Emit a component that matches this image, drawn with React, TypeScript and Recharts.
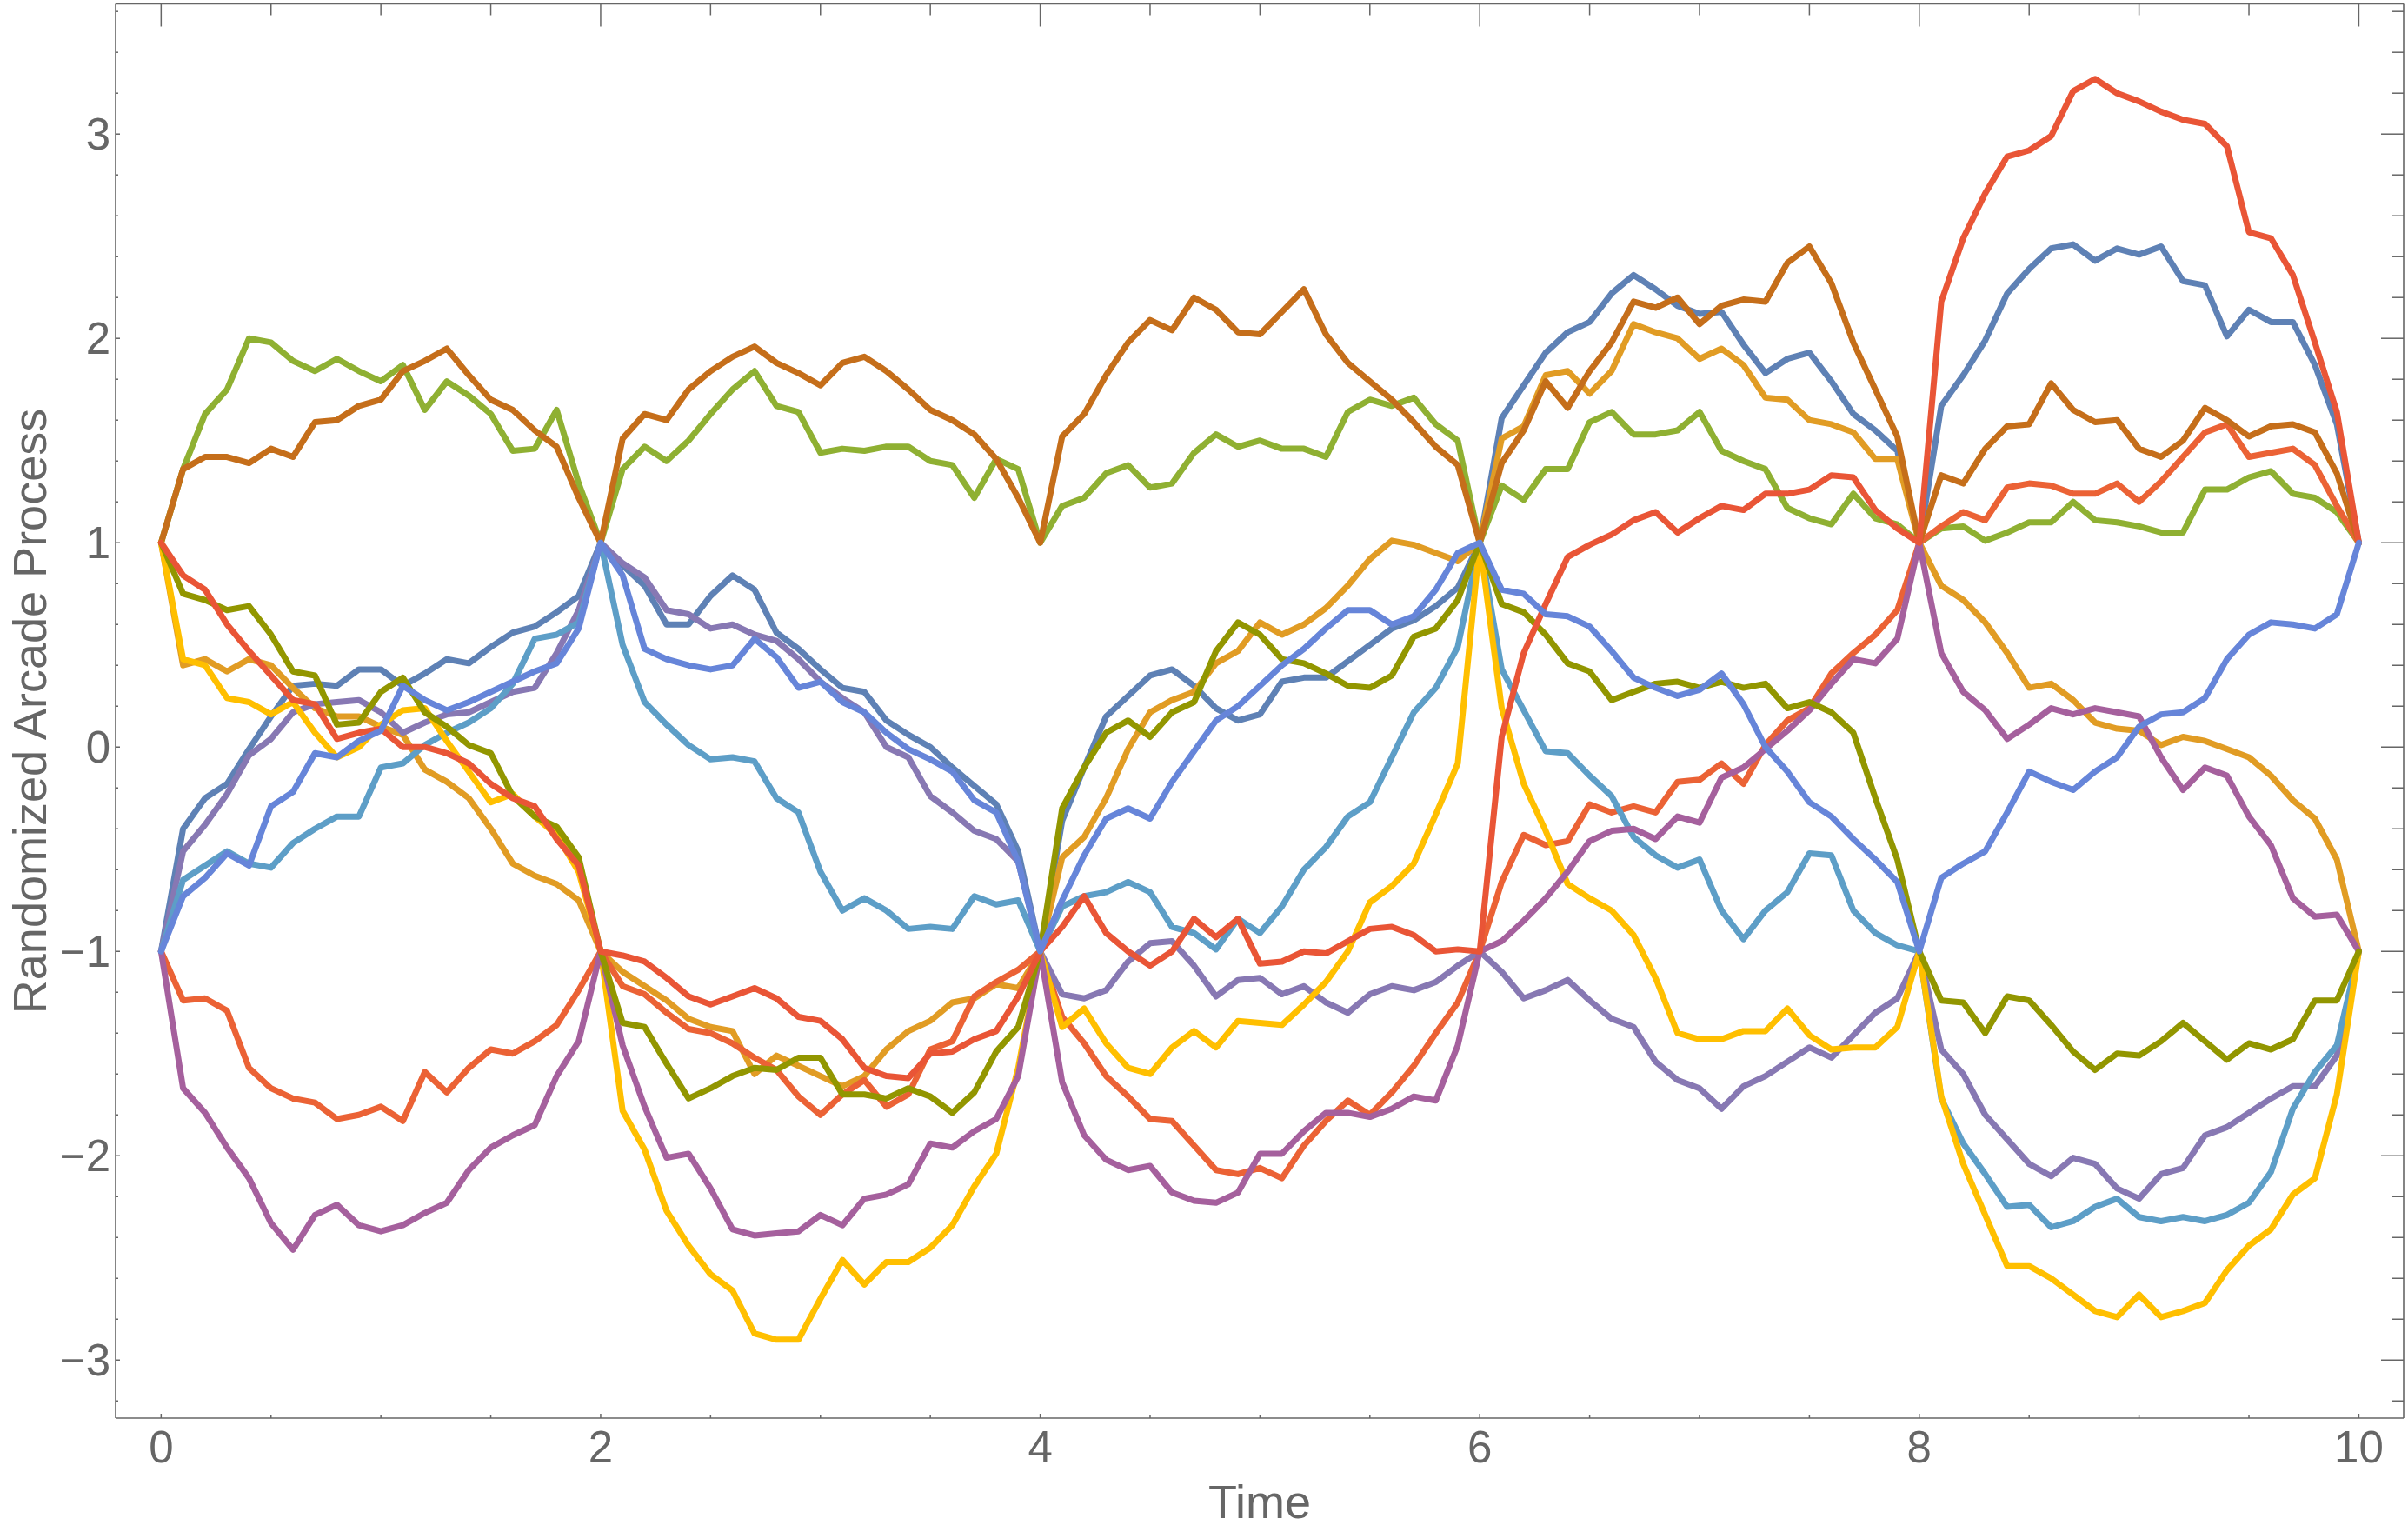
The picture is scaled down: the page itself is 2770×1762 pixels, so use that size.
import React from 'react';
import { LineChart, Line, XAxis, YAxis } from 'recharts';

const TIME = [0,0.1,0.2,0.3,0.4,0.5,0.6,0.7,0.8,0.9,1,1.1,1.2,1.3,1.4,1.5,1.6,1.7,1.8,1.9,2,2.1,2.2,2.3,2.4,2.5,2.6,2.7,2.8,2.9,3,3.1,3.2,3.3,3.4,3.5,3.6,3.7,3.8,3.9,4,4.1,4.2,4.3,4.4,4.5,4.6,4.7,4.8,4.9,5,5.1,5.2,5.3,5.4,5.5,5.6,5.7,5.8,5.9,6,6.1,6.2,6.3,6.4,6.5,6.6,6.7,6.8,6.9,7,7.1,7.2,7.3,7.4,7.5,7.6,7.7,7.8,7.9,8,8.1,8.2,8.3,8.4,8.5,8.6,8.7,8.8,8.9,9,9.1,9.2,9.3,9.4,9.5,9.6,9.7,9.8,9.9,10];

const S_BLUE = [
  -1, -0.40, -0.25, -0.18, -0.01, 0.15, 0.30, 0.31, 0.30, 0.38, 0.38, 0.30, 0.36, 0.43, 0.41, 0.49, 0.56, 0.59, 0.66, 0.74, 1.0,
  0.89, 0.79, 0.60, 0.60, 0.74, 0.84, 0.77, 0.56, 0.48, 0.38, 0.29, 0.27, 0.13, 0.06, 0.00, -0.10, -0.19, -0.28, -0.51, -1,
  -0.36, -0.10, 0.15, 0.25, 0.35, 0.38, 0.30, 0.19, 0.13, 0.16, 0.32, 0.34, 0.34, 0.42, 0.50, 0.58, 0.62, 0.69, 0.78, 1.0,
  1.61, 1.77, 1.93, 2.03, 2.08, 2.22, 2.31, 2.24, 2.16, 2.12, 2.13, 1.97, 1.83, 1.90, 1.93, 1.79, 1.63, 1.55, 1.45, 1.0,
  1.67, 1.82, 1.99, 2.22, 2.34, 2.44, 2.46, 2.38, 2.44, 2.41, 2.45, 2.28, 2.26, 2.01, 2.14, 2.08, 2.08, 1.87, 1.58, 1.0,
];
const S_ORANGE = [
  1.0, 0.40, 0.43, 0.37, 0.43, 0.40, 0.29, 0.19, 0.15, 0.15, 0.10, 0.06, -0.11, -0.17, -0.25, -0.40, -0.57, -0.63, -0.67, -0.75, -1,
  -1.10, -1.17, -1.24, -1.33, -1.37, -1.39, -1.60, -1.51, -1.56, -1.61, -1.66, -1.61, -1.48, -1.39, -1.34, -1.25, -1.23, -1.16, -1.18, -1,
  -0.54, -0.44, -0.25, -0.01, 0.17, 0.23, 0.27, 0.41, 0.47, 0.61, 0.55, 0.60, 0.68, 0.79, 0.92, 1.01, 0.99, 0.95, 0.91, 1.0,
  1.51, 1.57, 1.82, 1.84, 1.73, 1.84, 2.07, 2.03, 2.00, 1.90, 1.95, 1.87, 1.71, 1.70, 1.60, 1.58, 1.54, 1.41, 1.41, 1.0,
  0.79, 0.72, 0.61, 0.46, 0.29, 0.31, 0.23, 0.12, 0.09, 0.08, 0.01, 0.05, 0.03, -0.01, -0.05, -0.14, -0.26, -0.35, -0.55, -1,
];
const S_GREEN = [
  1.0, 1.36, 1.63, 1.75, 2.0, 1.98, 1.89, 1.84, 1.90, 1.84, 1.79, 1.87, 1.65, 1.79, 1.72, 1.63, 1.45, 1.46, 1.65, 1.29, 1.0,
  1.36, 1.47, 1.40, 1.50, 1.63, 1.75, 1.84, 1.67, 1.64, 1.44, 1.46, 1.45, 1.47, 1.47, 1.40, 1.38, 1.22, 1.41, 1.36, 1.0,
  1.18, 1.22, 1.34, 1.38, 1.27, 1.29, 1.44, 1.53, 1.47, 1.50, 1.46, 1.46, 1.42, 1.64, 1.70, 1.67, 1.71, 1.58, 1.50, 1.0,
  1.28, 1.21, 1.36, 1.36, 1.59, 1.64, 1.53, 1.53, 1.55, 1.64, 1.45, 1.40, 1.36, 1.17, 1.12, 1.09, 1.24, 1.12, 1.09, 1.0,
  1.07, 1.08, 1.01, 1.05, 1.10, 1.10, 1.20, 1.11, 1.10, 1.08, 1.05, 1.05, 1.26, 1.26, 1.32, 1.35, 1.24, 1.22, 1.15, 1.0,
];
const S_REDORANGE = [
  -1, -1.24, -1.23, -1.29, -1.57, -1.67, -1.72, -1.74, -1.82, -1.80, -1.76, -1.83, -1.59, -1.69, -1.57, -1.48, -1.50, -1.44, -1.36, -1.19, -1,
  -1.17, -1.21, -1.30, -1.38, -1.40, -1.45, -1.52, -1.58, -1.71, -1.80, -1.70, -1.63, -1.76, -1.70, -1.48, -1.44, -1.22, -1.15, -1.09, -1,
  -1.32, -1.45, -1.61, -1.71, -1.82, -1.83, -1.95, -2.07, -2.09, -2.06, -2.11, -1.95, -1.83, -1.73, -1.80, -1.69, -1.56, -1.40, -1.25, -1,
  -0.66, -0.43, -0.48, -0.46, -0.28, -0.32, -0.29, -0.32, -0.17, -0.16, -0.08, -0.18, 0.01, 0.13, 0.19, 0.36, 0.46, 0.55, 0.67, 1.0,
  1.08, 1.15, 1.11, 1.27, 1.29, 1.28, 1.24, 1.24, 1.29, 1.20, 1.30, 1.42, 1.54, 1.58, 1.42, 1.44, 1.46, 1.38, 1.18, 1.0,
];
const S_PURPLE = [
  -1, -0.51, -0.38, -0.23, -0.04, 0.04, 0.17, 0.21, 0.22, 0.23, 0.17, 0.07, 0.12, 0.16, 0.17, 0.22, 0.27, 0.29, 0.46, 0.67, 1.0,
  0.90, 0.83, 0.67, 0.65, 0.58, 0.60, 0.55, 0.52, 0.43, 0.32, 0.24, 0.17, 0.00, -0.05, -0.24, -0.32, -0.41, -0.45, -0.56, -1,
  -1.21, -1.23, -1.19, -1.05, -0.96, -0.95, -1.07, -1.22, -1.14, -1.13, -1.21, -1.17, -1.25, -1.30, -1.21, -1.17, -1.19, -1.15, -1.07, -1,
  -1.10, -1.23, -1.19, -1.14, -1.24, -1.33, -1.37, -1.54, -1.63, -1.67, -1.77, -1.66, -1.61, -1.54, -1.47, -1.52, -1.41, -1.30, -1.23, -1,
  -1.48, -1.60, -1.80, -1.92, -2.04, -2.10, -2.01, -2.04, -2.16, -2.21, -2.09, -2.06, -1.90, -1.86, -1.79, -1.72, -1.66, -1.66, -1.51, -1,
];
const S_BROWN = [
  1.0, 1.36, 1.42, 1.42, 1.39, 1.46, 1.42, 1.59, 1.60, 1.67, 1.70, 1.84, 1.89, 1.95, 1.82, 1.70, 1.65, 1.55, 1.47, 1.22, 1.0,
  1.51, 1.63, 1.60, 1.75, 1.84, 1.91, 1.96, 1.88, 1.83, 1.77, 1.88, 1.91, 1.84, 1.75, 1.65, 1.60, 1.53, 1.41, 1.22, 1.0,
  1.52, 1.63, 1.82, 1.98, 2.09, 2.04, 2.20, 2.14, 2.03, 2.02, 2.13, 2.24, 2.02, 1.88, 1.79, 1.70, 1.59, 1.47, 1.38, 1.0,
  1.39, 1.55, 1.79, 1.66, 1.84, 1.98, 2.18, 2.15, 2.20, 2.07, 2.16, 2.19, 2.18, 2.37, 2.45, 2.27, 1.98, 1.75, 1.52, 1.0,
  1.33, 1.29, 1.46, 1.57, 1.58, 1.78, 1.65, 1.59, 1.60, 1.46, 1.42, 1.50, 1.66, 1.60, 1.52, 1.57, 1.58, 1.54, 1.34, 1.0,
];
const S_LIGHTBLUE = [
  -1, -0.65, -0.58, -0.51, -0.57, -0.59, -0.47, -0.40, -0.34, -0.34, -0.10, -0.08, 0.01, 0.07, 0.12, 0.19, 0.31, 0.53, 0.55, 0.61, 1.0,
  0.50, 0.22, 0.11, 0.01, -0.06, -0.05, -0.07, -0.25, -0.32, -0.61, -0.80, -0.74, -0.80, -0.89, -0.88, -0.89, -0.73, -0.77, -0.75, -1,
  -0.78, -0.73, -0.71, -0.66, -0.71, -0.88, -0.91, -0.99, -0.84, -0.91, -0.78, -0.60, -0.49, -0.34, -0.27, -0.05, 0.17, 0.29, 0.49, 1.0,
  0.38, 0.18, -0.02, -0.03, -0.14, -0.24, -0.44, -0.53, -0.59, -0.55, -0.80, -0.94, -0.80, -0.71, -0.52, -0.53, -0.80, -0.91, -0.97, -1,
  -1.72, -1.94, -2.09, -2.25, -2.24, -2.35, -2.32, -2.25, -2.21, -2.30, -2.32, -2.30, -2.32, -2.29, -2.23, -2.08, -1.77, -1.59, -1.46, -1,
];
const S_YELLOW = [
  1.0, 0.43, 0.40, 0.24, 0.22, 0.16, 0.22, 0.07, -0.05, 0.00, 0.11, 0.18, 0.19, 0.03, -0.12, -0.27, -0.23, -0.34, -0.43, -0.61, -1,
  -1.78, -1.97, -2.27, -2.44, -2.58, -2.66, -2.87, -2.90, -2.90, -2.70, -2.51, -2.63, -2.52, -2.52, -2.45, -2.34, -2.15, -1.99, -1.57, -1,
  -1.37, -1.28, -1.45, -1.57, -1.60, -1.47, -1.39, -1.47, -1.34, -1.35, -1.36, -1.26, -1.15, -1.00, -0.76, -0.68, -0.57, -0.33, -0.08, 1.0,
  0.19, -0.18, -0.41, -0.67, -0.74, -0.80, -0.92, -1.13, -1.40, -1.43, -1.43, -1.39, -1.39, -1.28, -1.41, -1.48, -1.47, -1.47, -1.37, -1,
  -1.71, -2.04, -2.29, -2.54, -2.54, -2.60, -2.68, -2.76, -2.79, -2.68, -2.79, -2.76, -2.72, -2.56, -2.44, -2.36, -2.19, -2.11, -1.70, -1,
];
const S_MAGENTA = [
  -1, -1.67, -1.79, -1.96, -2.11, -2.33, -2.46, -2.29, -2.24, -2.34, -2.37, -2.34, -2.28, -2.23, -2.07, -1.96, -1.90, -1.85, -1.61, -1.44, -1,
  -1.46, -1.76, -2.01, -1.99, -2.16, -2.36, -2.39, -2.38, -2.37, -2.29, -2.34, -2.21, -2.19, -2.14, -1.94, -1.96, -1.88, -1.82, -1.61, -1,
  -1.64, -1.90, -2.02, -2.07, -2.05, -2.18, -2.22, -2.23, -2.18, -1.99, -1.99, -1.88, -1.79, -1.79, -1.81, -1.77, -1.71, -1.73, -1.46, -1,
  -0.95, -0.85, -0.74, -0.61, -0.46, -0.41, -0.40, -0.45, -0.34, -0.37, -0.15, -0.10, -0.01, 0.08, 0.18, 0.31, 0.43, 0.41, 0.53, 1.0,
  0.46, 0.27, 0.18, 0.04, 0.11, 0.19, 0.16, 0.19, 0.17, 0.15, -0.05, -0.21, -0.10, -0.14, -0.34, -0.48, -0.74, -0.83, -0.82, -1,
];
const S_OLIVE = [
  1.0, 0.75, 0.72, 0.67, 0.69, 0.55, 0.37, 0.35, 0.11, 0.12, 0.27, 0.34, 0.17, 0.10, 0.01, -0.03, -0.24, -0.34, -0.39, -0.54, -1,
  -1.35, -1.37, -1.55, -1.72, -1.67, -1.61, -1.57, -1.58, -1.52, -1.52, -1.70, -1.70, -1.72, -1.67, -1.71, -1.79, -1.69, -1.49, -1.37, -1,
  -0.30, -0.10, 0.07, 0.13, 0.05, 0.17, 0.22, 0.47, 0.61, 0.55, 0.43, 0.41, 0.36, 0.30, 0.29, 0.35, 0.54, 0.58, 0.72, 1.0,
  0.70, 0.66, 0.55, 0.41, 0.37, 0.23, 0.27, 0.31, 0.32, 0.29, 0.32, 0.29, 0.31, 0.19, 0.22, 0.17, 0.07, -0.25, -0.55, -1,
  -1.24, -1.25, -1.40, -1.22, -1.24, -1.36, -1.49, -1.58, -1.50, -1.51, -1.44, -1.35, -1.44, -1.53, -1.45, -1.48, -1.43, -1.24, -1.24, -1,
];
const S_RED = [
  1.0, 0.84, 0.77, 0.60, 0.47, 0.35, 0.23, 0.21, 0.04, 0.07, 0.09, 0.00, 0.00, -0.03, -0.08, -0.18, -0.25, -0.29, -0.45, -0.58, -1,
  -1.02, -1.05, -1.13, -1.22, -1.26, -1.22, -1.18, -1.23, -1.32, -1.34, -1.43, -1.57, -1.61, -1.62, -1.50, -1.49, -1.43, -1.39, -1.22, -1,
  -0.88, -0.73, -0.91, -1.00, -1.07, -1.00, -0.84, -0.93, -0.84, -1.06, -1.05, -1.00, -1.01, -0.95, -0.89, -0.88, -0.92, -1.00, -0.99, -1,
  0.05, 0.46, 0.70, 0.93, 0.99, 1.04, 1.11, 1.15, 1.05, 1.12, 1.18, 1.16, 1.24, 1.24, 1.26, 1.33, 1.32, 1.16, 1.07, 1.0,
  2.18, 2.49, 2.71, 2.89, 2.92, 2.99, 3.21, 3.27, 3.20, 3.16, 3.11, 3.07, 3.05, 2.94, 2.52, 2.49, 2.31, 1.98, 1.64, 1.0,
];
const S_CORNFLOWER = [
  -1, -0.73, -0.64, -0.52, -0.58, -0.29, -0.22, -0.03, -0.05, 0.03, 0.08, 0.30, 0.23, 0.18, 0.22, 0.27, 0.32, 0.37, 0.41, 0.58, 1.0,
  0.84, 0.48, 0.43, 0.40, 0.38, 0.40, 0.53, 0.44, 0.29, 0.32, 0.22, 0.17, 0.07, -0.01, -0.06, -0.12, -0.26, -0.32, -0.56, -1,
  -0.75, -0.53, -0.35, -0.30, -0.35, -0.17, -0.02, 0.13, 0.20, 0.30, 0.40, 0.48, 0.58, 0.67, 0.67, 0.60, 0.64, 0.77, 0.95, 1.0,
  0.77, 0.75, 0.65, 0.64, 0.59, 0.47, 0.34, 0.29, 0.25, 0.28, 0.36, 0.21, 0.00, -0.12, -0.27, -0.34, -0.45, -0.55, -0.66, -1,
  -0.64, -0.57, -0.51, -0.32, -0.12, -0.17, -0.21, -0.12, -0.05, 0.10, 0.16, 0.17, 0.24, 0.43, 0.55, 0.61, 0.60, 0.58, 0.65, 1.0,
];

const SERIES = [
  { key: 's1', values: S_BLUE, color: '#5E81B5' },
  { key: 's2', values: S_ORANGE, color: '#E19C24' },
  { key: 's3', values: S_GREEN, color: '#8FB032' },
  { key: 's4', values: S_REDORANGE, color: '#EB6235' },
  { key: 's5', values: S_PURPLE, color: '#8778B3' },
  { key: 's6', values: S_BROWN, color: '#C56E1A' },
  { key: 's7', values: S_LIGHTBLUE, color: '#5D9EC7' },
  { key: 's8', values: S_YELLOW, color: '#FFBF00' },
  { key: 's9', values: S_MAGENTA, color: '#A5609D' },
  { key: 's10', values: S_OLIVE, color: '#929600' },
  { key: 's11', values: S_RED, color: '#E95536' },
  { key: 's12', values: S_CORNFLOWER, color: '#6685D9' },
];

const X_TICKS = [0,0.5,1,1.5,2,2.5,3,3.5,4,4.5,5,5.5,6,6.5,7,7.5,8,8.5,9,9.5,10];
const X_MAJOR = [0,2,4,6,8,10];
const Y_TICKS = [-3.2,-3,-2.8,-2.6,-2.4,-2.2,-2,-1.8,-1.6,-1.4,-1.2,-1,-0.8,-0.6,-0.4,-0.2,0,0.2,0.4,0.6,0.8,1,1.2,1.4,1.6,1.8,2,2.2,2.4,2.6,2.8,3,3.2,3.4,3.6];
const Y_MAJOR = [-3,-2,-1,0,1,2,3];
const X_DOMAIN = [-0.207, 10.204];
const Y_DOMAIN = [-3.284, 3.637];

const X_TITLE = 'Time';
const Y_TITLE = 'Randomized Arcade Process';

const FONT = '"Liberation Sans", Arial, Helvetica, sans-serif';
const FRAME = '#666666';
const W = 2770;
const H = 1762;

const rows = TIME.map((t, i) => {
  const r: any = { t };
  SERIES.forEach((s) => { r[s.key] = s.values[i]; });
  return r;
});

const fmt = (v: number) => (v < 0 ? '\u2212' + Math.abs(v) : String(v));

const BottomTick = (props: any) => {
  const { x, y, payload } = props;
  const major = X_MAJOR.includes(payload.value);
  return (
    <g>
      <line x1={x} x2={x} y1={y} y2={y - (major ? 5 : 3)} stroke={FRAME} strokeWidth={1.5} />
      {major && (
        <text x={x} y={y + 51} textAnchor="middle" fontSize={51} fill={FRAME} fontFamily={FONT}>
          {fmt(payload.value)}
        </text>
      )}
    </g>
  );
};

const TopTick = (props: any) => {
  const { x, y, payload } = props;
  const major = X_MAJOR.includes(payload.value);
  return <line x1={x} x2={x} y1={y} y2={y + (major ? 26 : 13)} stroke={FRAME} strokeWidth={1.5} />;
};

const LeftTick = (props: any) => {
  const { x, y, payload } = props;
  const major = Y_MAJOR.includes(payload.value);
  return (
    <g>
      <line x1={x} x2={x + (major ? 5 : 3)} y1={y} y2={y} stroke={FRAME} strokeWidth={1.5} />
      {major && (
        <text x={x - 6} y={y + 18} textAnchor="end" fontSize={51} fill={FRAME} fontFamily={FONT}>
          {fmt(payload.value)}
        </text>
      )}
    </g>
  );
};

const RightTick = (props: any) => {
  const { x, y, payload } = props;
  const major = Y_MAJOR.includes(payload.value);
  return <line x1={x} x2={x - (major ? 26 : 13)} y1={y} y2={y} stroke={FRAME} strokeWidth={1.5} />;
};

const axisLine = { stroke: FRAME, strokeWidth: 1.6 };

export default function App() {
  return (
    <div style={{ position: 'absolute', left: 0, top: 0, width: W, height: H, background: '#ffffff' }}>
      <LineChart width={W} height={H} data={rows} margin={{ top: 0, right: 0, bottom: 0, left: 0 }}>
        <XAxis
          xAxisId="b"
          type="number"
          dataKey="t"
          domain={X_DOMAIN}
          allowDataOverflow
          ticks={X_TICKS}
          interval={0}
          height={131}
          tickLine={false}
          tickSize={0}
          tickMargin={0}
          axisLine={axisLine}
          tick={BottomTick}
        />
        <XAxis
          xAxisId="t"
          orientation="top"
          type="number"
          dataKey="t"
          domain={X_DOMAIN}
          allowDataOverflow
          ticks={X_TICKS}
          interval={0}
          height={4.5}
          tickLine={false}
          tickSize={0}
          tickMargin={0}
          axisLine={axisLine}
          tick={TopTick}
        />
        <YAxis
          yAxisId="l"
          type="number"
          domain={Y_DOMAIN}
          allowDataOverflow
          ticks={Y_TICKS}
          interval={0}
          width={133}
          tickLine={false}
          tickSize={0}
          tickMargin={0}
          axisLine={axisLine}
          tick={LeftTick}
        />
        <YAxis
          yAxisId="r"
          orientation="right"
          type="number"
          domain={Y_DOMAIN}
          allowDataOverflow
          ticks={Y_TICKS}
          interval={0}
          width={5}
          tickLine={false}
          tickSize={0}
          tickMargin={0}
          axisLine={axisLine}
          tick={RightTick}
        />
        {SERIES.map((s) => (
          <Line
            key={s.key}
            xAxisId="b"
            yAxisId="l"
            type="linear"
            dataKey={s.key}
            stroke={s.color}
            strokeWidth={7}
            strokeLinejoin="round"
            strokeLinecap="round"
            dot={false}
            activeDot={false}
            isAnimationActive={false}
          />
        ))}
      </LineChart>
      <svg width={W} height={H} style={{ position: 'absolute', left: 0, top: 0, pointerEvents: 'none' }}>
        <text x={1449} y={1746} textAnchor="middle" fontSize={54} fill={FRAME} fontFamily={FONT}>
          {X_TITLE}
        </text>
        <text
          transform="translate(53,818) rotate(-90)"
          textAnchor="middle"
          fontSize={54}
          fill={FRAME}
          fontFamily={FONT}
        >
          {Y_TITLE}
        </text>
      </svg>
    </div>
  );
}
